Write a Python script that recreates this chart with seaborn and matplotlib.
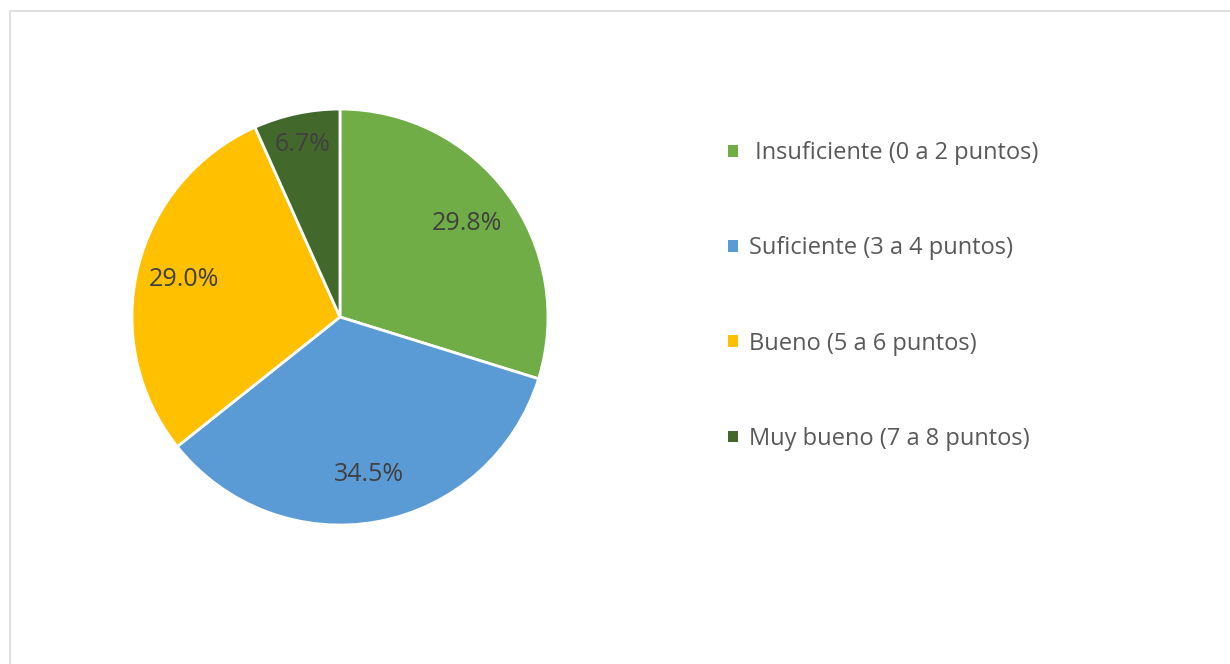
import matplotlib
matplotlib.use("Agg")
import matplotlib.pyplot as plt
from matplotlib.patches import Rectangle
import seaborn as sns

# Datos del gráfico
CATEGORIES = [
    " Insuficiente (0 a 2 puntos)",
    "Suficiente (3 a 4 puntos)",
    "Bueno (5 a 6 puntos)",
    "Muy bueno (7 a 8 puntos)",
]
PERCENTS = [29.8, 34.5, 29.0, 6.7]
COLORS = ["#70AD47", "#5B9BD5", "#FFC000", "#43682B"]
LABEL_DIST = [0.76, 0.77, 0.77, 0.85]

LABEL_COLOR = "#404040"
LEGEND_COLOR = "#595959"


def build_figure() -> plt.Figure:
    sns.set_theme(style="white")
    plt.rcParams["font.family"] = ["Open Sans", "DejaVu Sans"]

    fig = plt.figure(figsize=(12.3, 6.64), dpi=100)
    fig.patch.set_facecolor("white")

    # chart border, like the spreadsheet frame
    fig.patches.append(
        Rectangle((10 / 1230, -0.05), 1.1, 1 - 11 / 664 + 0.05,
                  transform=fig.transFigure, fill=False,
                  edgecolor="#D9D9D9", linewidth=1.2)
    )

    ax = fig.add_axes([0.1073, 0.2093, 0.3382, 0.6265])
    palette = sns.color_palette(COLORS)
    wedges, _, autotexts = ax.pie(
        PERCENTS,
        colors=palette,
        startangle=90,
        counterclock=False,
        autopct="%.1f%%",
        pctdistance=1.0,
        wedgeprops=dict(edgecolor="white", linewidth=2),
        textprops=dict(color=LABEL_COLOR, fontsize=18),
    )
    for txt, dist in zip(autotexts, LABEL_DIST):
        x, y = txt.get_position()
        txt.set_position((x * dist, y * dist))
    ax.set_xlim(-1, 1)
    ax.set_ylim(-1, 1)
    ax.set_aspect("equal")
    ax.axis("off")

    leg = fig.legend(
        wedges,
        CATEGORIES,
        loc="center left",
        bbox_to_anchor=(707 / 1230, 1 - 296 / 664),
        frameon=False,
        fontsize=17,
        labelspacing=3.02,
        handlelength=0.4,
        handleheight=0.4,
        handletextpad=0.47,
    )
    for t in leg.get_texts():
        t.set_color(LEGEND_COLOR)
    for h in leg.legend_handles:
        h.set_linewidth(0)

    return fig


if __name__ == "__main__":
    fig = build_figure()
    fig.savefig("out.png", dpi=100)
    plt.close(fig)
